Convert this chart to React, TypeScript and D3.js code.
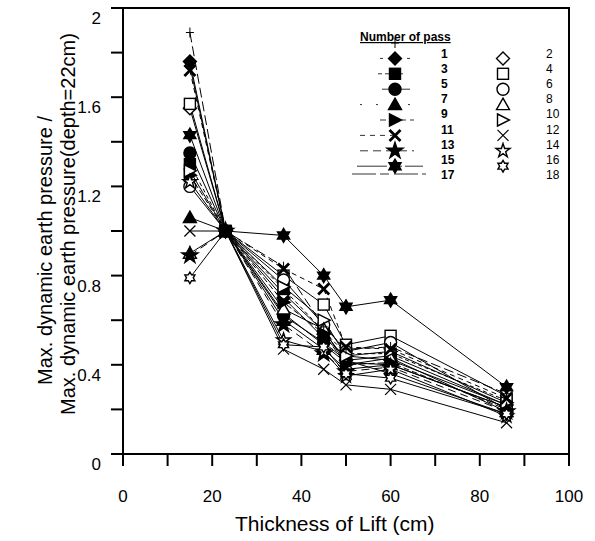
import * as d3 from 'd3';
import { useEffect, useRef } from 'react';

// thickness of lift (cm) at which each pass was measured
const thickness = [15, 23, 36, 45, 50, 60, 86];

// pressure ratio, one array per pass number
const pass1 = [1.76, 1, 0.70, 0.52, 0.44, 0.42, 0.22];
const pass2 = [1.55, 1, 0.72, 0.55, 0.42, 0.36, 0.18];
const pass3 = [1.30, 1, 0.74, 0.55, 0.45, 0.45, 0.24];
const pass4 = [1.57, 1, 0.80, 0.67, 0.49, 0.53, 0.26];
const pass5 = [1.35, 1, 0.62, 0.50, 0.42, 0.44, 0.22];
const pass6 = [1.20, 1, 0.78, 0.58, 0.46, 0.50, 0.20];
const pass7 = [1.06, 1, 0.60, 0.47, 0.38, 0.40, 0.21];
const pass8 = [0.90, 1, 0.65, 0.56, 0.40, 0.43, 0.19];
const pass9 = [1.25, 1, 0.68, 0.54, 0.40, 0.41, 0.20];
const pass10 = [1.27, 1, 0.75, 0.60, 0.44, 0.46, 0.23];
const pass11 = [1.72, 1, 0.83, 0.74, 0.48, 0.47, 0.25];
const pass12 = [1.00, 1, 0.47, 0.38, 0.31, 0.29, 0.14];
const pass13 = [0.89, 1, 0.58, 0.45, 0.37, 0.39, 0.19];
const pass14 = [1.22, 1, 0.51, 0.46, 0.35, 0.38, 0.17];
const pass15 = [1.43, 1, 0.98, 0.80, 0.66, 0.69, 0.30];
const pass16 = [0.79, 1, 0.49, 0.48, 0.36, 0.34, 0.18];
const pass17 = [1.89, 1, 0.84, 0.57, 0.47, 0.48, 0.27];
const pass18 = [1.74, 1, 0.63, 0.49, 0.41, 0.40, 0.21];

const passValues = [pass1, pass2, pass3, pass4, pass5, pass6, pass7, pass8, pass9,
  pass10, pass11, pass12, pass13, pass14, pass15, pass16, pass17, pass18];
const passLabels = ['1', '2', '3', '4', '5', '6', '7', '8', '9',
  '10', '11', '12', '13', '14', '15', '16', '17', '18'];

const xTicks = [0, 10, 20, 30, 40, 50, 60, 70, 80, 90, 100];
const xTickLabels = ['0', '20', '40', '60', '80', '100'];
const yTicks = [0, 0.2, 0.4, 0.6, 0.8, 1, 1.2, 1.4, 1.6, 1.8, 2];
const yTickLabels = ['0', '0.4', '0.8', '1.2', '1.6', '2'];

// marker per pass (styles, kept apart from the data)
const markers = ['diamondF', 'diamondO', 'squareF', 'squareO', 'circleF', 'circleO',
  'triF', 'triO', 'rtriF', 'rtriO', 'xBold', 'xThin', 'starF', 'starO',
  'hexF', 'hexO', 'plus', 'none'];
const lineDash = [null, null, '4,3', null, null, null, null, null, '6,3', null,
  '5,4', null, '8,5', null, null, null, '10,4', null];

const FONT = 'Liberation Sans, Arial, sans-serif';

const hexPath = (R) => {
  const pts = d3.range(12).map(k => {
    const a = (-90 + k * 30) * Math.PI / 180;
    const r = k % 2 === 0 ? R : R * 0.58;
    return [r * Math.cos(a), r * Math.sin(a)];
  });
  return 'M' + pts.map(p => p.join(',')).join('L') + 'Z';
};

const drawMarker = (g, type, cx, cy) => {
  if (type === 'none') return;
  const filled = type.endsWith('F') || type === 'xBold';
  const m = g.append('g').attr('transform', `translate(${cx},${cy})`);
  const fill = filled ? '#000' : '#fff';
  const base = type.replace(/[FO]$/, '');
  if (base === 'diamond') {
    m.append('path').attr('d', 'M0,-6.5L6.5,0L0,6.5L-6.5,0Z');
  } else if (base === 'square') {
    m.append('rect').attr('x', -5.5).attr('y', -5.5).attr('width', 11).attr('height', 11);
  } else if (base === 'circle') {
    m.append('circle').attr('r', 6);
  } else if (base === 'tri') {
    m.append('path').attr('d', 'M0,-6.5L6.5,5L-6.5,5Z');
  } else if (base === 'rtri') {
    m.append('path').attr('d', 'M-5.5,-6L6.5,0L-5.5,6Z');
  } else if (base === 'star') {
    m.append('path').attr('d', d3.symbol(d3.symbolStar, filled ? 80 : 60)());
  } else if (base === 'hex') {
    m.append('path').attr('d', hexPath(filled ? 7 : 5.8));
  } else if (type === 'xBold' || type === 'xThin') {
    m.append('path').attr('d', 'M-5.5,-5.5L5.5,5.5M-5.5,5.5L5.5,-5.5')
      .attr('stroke', '#000').attr('stroke-width', type === 'xBold' ? 2.8 : 1.2).attr('fill', 'none');
    return;
  } else if (type === 'plus') {
    m.append('path').attr('d', 'M-4,0L4,0M0,-5L0,5')
      .attr('stroke', '#000').attr('stroke-width', 1).attr('fill', 'none');
    return;
  }
  m.selectAll('*').attr('fill', fill).attr('stroke', '#000').attr('stroke-width', 1.4);
};

const App = () => {
  const svgRef = useRef(null);

  useEffect(() => {
    const svg = d3.select(svgRef.current);
    svg.selectAll('*').remove();

    const x = d3.scaleLinear().domain([0, 100]).range([123, 569]);
    const y = d3.scaleLinear().domain([0, 2]).range([454, 8]);

    // frame
    svg.append('path')
      .attr('d', `M${x(0)},${y(0)}L${x(0)},${y(2)}L${x(100)},${y(2)}L${x(100)},${y(0)}Z`)
      .attr('fill', 'none').attr('stroke', '#000').attr('stroke-width', 2);

    // ticks
    svg.selectAll('.xtick').data(xTicks).enter().append('line')
      .attr('x1', d => x(d)).attr('x2', d => x(d))
      .attr('y1', y(0)).attr('y2', y(0) + 12)
      .attr('stroke', '#000').attr('stroke-width', 2);
    svg.selectAll('.ytick').data(yTicks).enter().append('line')
      .attr('x1', x(0) - 12).attr('x2', x(0))
      .attr('y1', d => y(d)).attr('y2', d => y(d))
      .attr('stroke', '#000').attr('stroke-width', 2);

    svg.selectAll('.xlab').data(xTickLabels).enter().append('text')
      .attr('x', d => x(+d)).attr('y', 502)
      .attr('text-anchor', 'middle')
      .style('font', `17px ${FONT}`)
      .text(d => d);
    svg.selectAll('.ylab').data(yTickLabels).enter().append('text')
      .attr('x', 101).attr('y', d => y(+d) + 16)
      .attr('text-anchor', 'end')
      .style('font', `17px ${FONT}`)
      .text(d => d);

    // axis titles
    svg.append('text')
      .attr('x', 235).attr('y', 531)
      .style('font', `21px ${FONT}`)
      .text('Thickness of Lift (cm)');
    svg.append('text')
      .attr('transform', 'translate(52,385) rotate(-90)')
      .style('font', `20px ${FONT}`)
      .text('Max. dynamic earth pressure /');
    svg.append('text')
      .attr('transform', 'translate(75,415) rotate(-90)')
      .style('font', `20px ${FONT}`)
      .text('Max. dynamic earth pressure(depth=22cm)');

    // lines
    const line = d3.line().x(d => x(d[0])).y(d => y(d[1]));
    passValues.forEach((vals, i) => {
      svg.append('path')
        .attr('d', line(thickness.map((t, j) => [t, vals[j]])))
        .attr('fill', 'none').attr('stroke', '#000').attr('stroke-width', 1)
        .attr('stroke-dasharray', lineDash[i]);
    });

    // markers
    const mg = svg.append('g');
    passValues.forEach((vals, i) => {
      thickness.forEach((t, j) => drawMarker(mg, markers[i], x(t), y(vals[j])));
    });
    // point every pass goes through, filled square on top
    mg.append('rect').attr('x', x(23) - 6).attr('y', y(1) - 6)
      .attr('width', 12).attr('height', 12).attr('fill', '#000');

    // legend
    const lg = svg.append('g');
    lg.append('text').attr('x', 360).attr('y', 41)
      .style('font', `bold 12px ${FONT}`).attr('text-decoration', 'underline')
      .text('Number of pass');
    const rowM = i => 43 + i * 15.4;
    const rowT = i => 57.5 + i * 15.2;
    const legLeft = [
      { d: '3,24', x1: 380, x2: 412 },
      { d: '4,3', x1: 378, x2: 406 },
      { d: null, x1: 382, x2: 410 },
      { d: '2,14', x1: 360, x2: 412 },
      { d: '6,4', x1: 380, x2: 414 },
      { d: '5,5', x1: 360, x2: 400 },
      { d: '8,5', x1: 360, x2: 414 },
      { d: '30,12,3,3', x1: 357, x2: 423 },
    ];
    drawMarker(lg, 'plus', 395, rowM(0));
    for (let k = 0; k < 8; k++) {
      const ly = rowM(k + 1);
      lg.append('line').attr('x1', legLeft[k].x1).attr('x2', legLeft[k].x2)
        .attr('y1', ly).attr('y2', ly)
        .attr('stroke', '#000').attr('stroke-width', 0.8)
        .attr('stroke-dasharray', legLeft[k].d);
      drawMarker(lg, markers[k * 2], 395, ly);
      drawMarker(lg, markers[k * 2 + 1], 503, ly);
    }
    lg.append('line').attr('x1', 352).attr('x2', 426)
      .attr('y1', 174).attr('y2', 174)
      .attr('stroke', '#000').attr('stroke-width', 0.8)
      .attr('stroke-dasharray', '24,4,9,5');
    passLabels.forEach((lab, i) => {
      const row = Math.floor(i / 2);
      const left = i % 2 === 0;
      lg.append('text')
        .attr('x', left ? 441 : 546).attr('y', rowT(row))
        .style('font', `${left ? 'bold ' : ''}12px ${FONT}`)
        .text(lab);
    });
  }, []);

  return (
    <svg ref={svgRef} width={595} height={541}
      style={{ position: 'absolute', left: 0, top: 0, background: '#fff' }}></svg>
  );
};

export default App;
